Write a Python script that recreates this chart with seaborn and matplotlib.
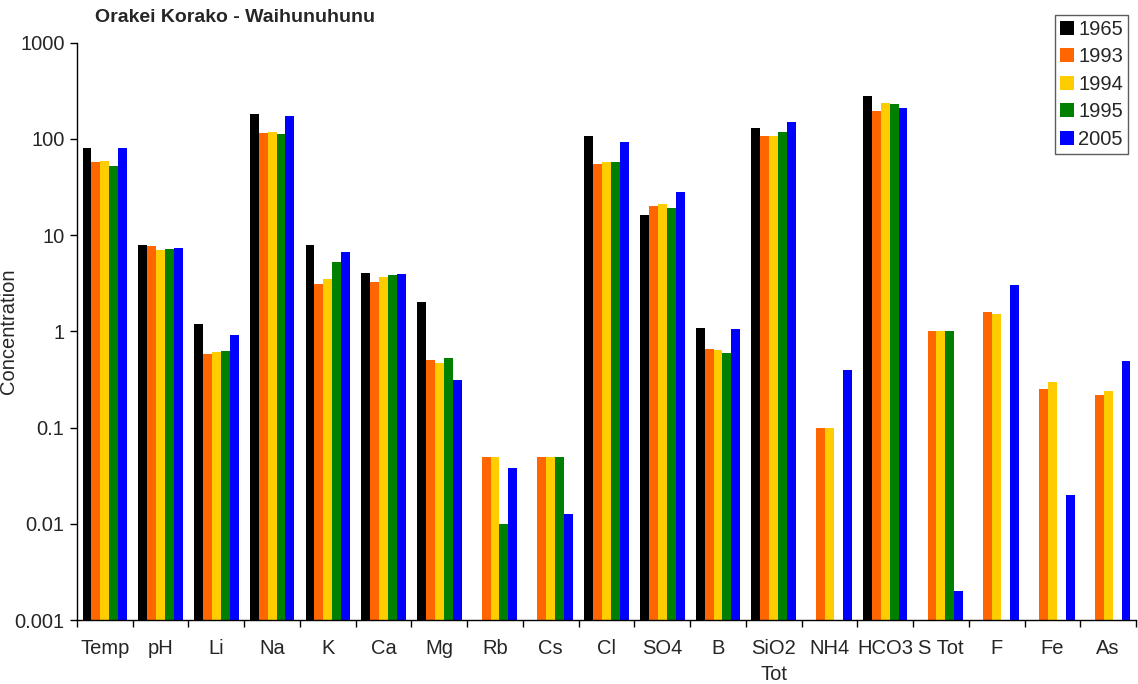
import numpy as np
import pandas as pd
import matplotlib
matplotlib.use("Agg")
import matplotlib.pyplot as plt
from matplotlib.ticker import FixedLocator, NullLocator
import seaborn as sns

categories = ["Temp", "pH", "Li", "Na", "K", "Ca", "Mg", "Rb", "Cs", "Cl", "SO4", "B",
              "SiO2\nTot", "NH4", "HCO3", "S Tot", "F", "Fe", "As"]
years = ["1965", "1993", "1994", "1995", "2005"]
nan = np.nan
v1965 = [81, 7.9, 1.2, 183, 7.9, 4.05, 2.0, nan, nan, 108, 16.3, 1.08, 131, nan, 276, nan, nan, nan, nan]
v1993 = [58, 7.7, 0.58, 116, 3.1, 3.26, 0.50, 0.05, 0.05, 55, 20.2, 0.65, 106, 0.1, 197, 1.0, 1.59, 0.25, 0.22]
v1994 = [59.5, 7.0, 0.61, 119, 3.5, 3.68, 0.47, 0.05, 0.05, 58, 21.2, 0.64, 106, 0.1, 239, 1.0, 1.51, 0.30, 0.24]
v1995 = [52.7, 7.2, 0.62, 113, 5.3, 3.86, 0.53, 0.01, 0.05, 58, 19.2, 0.59, 119, nan, 233, 1.0, nan, nan, nan]
v2005 = [81, 7.4, 0.91, 171, 6.7, 3.95, 0.31, 0.038, 0.0125, 94, 28.3, 1.06, 151, 0.40, 212, 0.002, 3.0, 0.02, 0.49]
y_ticks = [0.001, 0.01, 0.1, 1, 10, 100, 1000]
y_tick_labels = ["0.001", "0.01", "0.1", "1", "10", "100", "1000"]
colors = ["#000000", "#FF6600", "#FFCC00", "#008000", "#0000FF"]

series = [v1965, v1993, v1994, v1995, v2005]
rows = []
for yr, vals in zip(years, series):
    for c, v in zip(categories, vals):
        rows.append({"Parameter": c, "Year": yr, "Concentration": v})
df = pd.DataFrame(rows)

sns.set_style("white")
plt.rcParams["font.family"] = ["Liberation Sans", "DejaVu Sans"]

fig = plt.figure(figsize=(11.38, 6.84), dpi=100)
ax = fig.add_axes([77 / 1138, 1 - 620 / 684, (1136 - 77) / 1138, (620 - 42.7) / 684])
ax.set_yscale("log")

sns.barplot(data=df, x="Parameter", y="Concentration", hue="Year",
            order=categories, hue_order=years, palette=colors,
            width=0.8, saturation=1, ax=ax, errorbar=None, linewidth=0)

ax.set_ylim(0.001, 1000)
ax.set_xlim(-0.5, len(categories) - 0.5)
ax.set_yticks(y_ticks)
ax.set_yticklabels(y_tick_labels)
ax.yaxis.set_minor_locator(NullLocator())
ax.tick_params(axis="y", which="major", direction="out", length=5, width=1,
               color="black", labelsize=14.5, pad=4, left=True)
ax.xaxis.set_minor_locator(FixedLocator(np.arange(-0.5, len(categories), 1.0)))
ax.tick_params(axis="x", which="major", length=0, labelsize=14.5, pad=14)
ax.tick_params(axis="x", which="minor", direction="out", length=5, width=1,
               color="black", bottom=True)
for lbl in ax.get_xticklabels():
    lbl.set_linespacing(1.45)
ax.set_xlabel("")
ax.set_ylabel("Concentration", fontsize=14.5)
ax.yaxis.set_label_coords((18 - 77) / 1059, 0.5)

for s in ["top", "right"]:
    ax.spines[s].set_visible(False)
for s in ["left", "bottom"]:
    ax.spines[s].set_color("black")
    ax.spines[s].set_linewidth(1)

fig.text(95 / 1138, 1 - 18 / 684, "Orakei Korako - Waihunuhunu", fontsize=14,
         fontweight="bold", ha="left", va="center")

handles, labels = ax.get_legend_handles_labels()
ax.legend_.remove()
leg = fig.legend(handles, labels, loc="upper right",
                 bbox_to_anchor=(1128 / 1138, 1 - 15 / 684), borderaxespad=0,
                 fontsize=14.5, frameon=True, fancybox=False, handlelength=0.7,
                 handleheight=0.7, handletextpad=0.2, labelspacing=0.42,
                 borderpad=0.25)
leg.get_frame().set_edgecolor("#333333")
leg.get_frame().set_linewidth(1)

fig.savefig("out.png", dpi=100)
